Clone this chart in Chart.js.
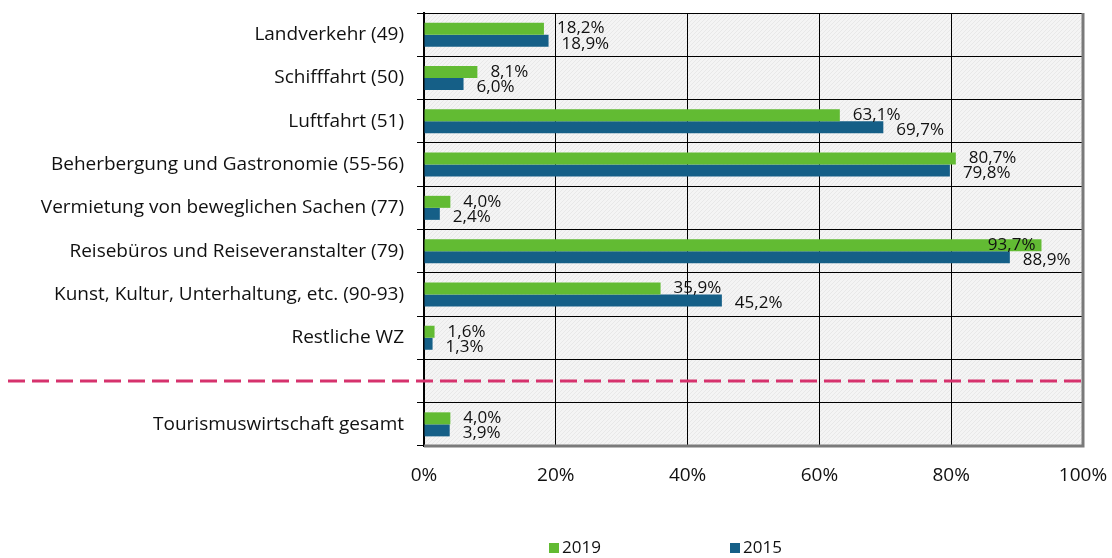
<!DOCTYPE html>
<html>
<head>
<meta charset="utf-8">
<script src="https://cdn.jsdelivr.net/npm/chart.js@4"></script>
<style>
  html, body { margin: 0; padding: 0; background: #fff; }
  #wrap { width: 1112px; height: 558px; }
</style>
</head>
<body>
<div id="wrap"><canvas id="chart" width="1112" height="558"></canvas></div>
<script>
const categories = [
    "Landverkehr (49)",
    "Schifffahrt (50)",
    "Luftfahrt (51)",
    "Beherbergung und Gastronomie (55-56)",
    "Vermietung von beweglichen Sachen (77)",
    "Reisebüros und Reiseveranstalter (79)",
    "Kunst, Kultur, Unterhaltung, etc. (90-93)",
    "Restliche WZ",
    "",
    "Tourismuswirtschaft gesamt"
];
const values2019 = [18.2, 8.1, 63.1, 80.7, 4.0, 93.7, 35.9, 1.6, null, 4.0];
const values2015 = [18.9, 6.0, 69.7, 79.8, 2.4, 88.9, 45.2, 1.3, null, 3.9];
const xTicks = [0, 20, 40, 60, 80, 100];
const separatorIndex = 8;  // empty row that holds the dashed line

const FONT = "'Open Sans', 'Noto Sans', sans-serif";
const TEXT = "#111";

// light hatched background of the plot area
function makePattern(ctx) {
    const c = document.createElement("canvas");
    c.width = 4; c.height = 4;
    const p = c.getContext("2d");
    p.fillStyle = "#f4f4f4";
    p.fillRect(0, 0, 4, 4);
    p.strokeStyle = "#e8e8e8";
    p.lineWidth = 1;
    p.beginPath();
    p.moveTo(0, 4); p.lineTo(4, 0);
    p.stroke();
    return ctx.createPattern(c, "repeat");
}

const backgroundPlugin = {
    id: "plotBackground",
    beforeDraw(chart) {
        const { ctx, chartArea: a } = chart;
        ctx.save();
        ctx.fillStyle = makePattern(ctx);
        ctx.fillRect(a.left, a.top, a.right - a.left, a.bottom - a.top);
        ctx.restore();
    }
};

const labelPlugin = {
    id: "valueLabels",
    afterDatasetsDraw(chart) {
        const { ctx, chartArea: a } = chart;
        ctx.save();
        ctx.font = "17px " + FONT;
        ctx.fillStyle = TEXT;
        ctx.textBaseline = "middle";
        chart.data.datasets.forEach((ds, di) => {
            chart.getDatasetMeta(di).data.forEach((bar, i) => {
                const v = ds.data[i];
                if (v === null) return;
                const text = v.toFixed(1).replace(".", ",") + "%";
                const w = ctx.measureText(text).width;
                const y = bar.y + (di === 0 ? 0 : 3);
                if (bar.x + 13 + w > a.right) {
                    ctx.textAlign = "right";
                    ctx.fillText(text, bar.x - 6, y);
                } else {
                    ctx.textAlign = "left";
                    ctx.fillText(text, bar.x + 13, y);
                }
            });
        });
        ctx.restore();
    }
};

const overlayPlugin = {
    id: "overlay",
    afterDraw(chart) {
        const { ctx, chartArea: a } = chart;
        const yScale = chart.scales.y;
        ctx.save();

        // grey frame on right and bottom
        ctx.strokeStyle = "#7a7a7a";
        ctx.lineWidth = 3;
        ctx.beginPath();
        ctx.moveTo(a.right, a.top);
        ctx.lineTo(a.right, a.bottom);
        ctx.lineTo(a.left, a.bottom);
        ctx.stroke();

        // dashed separator
        const ySep = yScale.getPixelForValue(separatorIndex);
        ctx.strokeStyle = "#d6326d";
        ctx.lineWidth = 3;
        ctx.setLineDash([17, 7]);
        ctx.beginPath();
        ctx.moveTo(8, ySep);
        ctx.lineTo(a.right, ySep);
        ctx.stroke();
        ctx.setLineDash([]);

        // legend
        ctx.font = "17px " + FONT;
        ctx.textBaseline = "middle";
        ctx.textAlign = "left";
        chart.data.datasets.forEach((ds, i) => {
            const x = 549 + i * 181;
            const y = 548;
            ctx.fillStyle = ds.backgroundColor;
            ctx.fillRect(x, y - 5, 10, 10);
            ctx.fillStyle = TEXT;
            ctx.fillText(ds.label, x + 13, y);
        });
        ctx.restore();
    }
};

new Chart(document.getElementById("chart"), {
    type: "bar",
    data: {
        labels: categories,
        datasets: [
            { label: "2019", data: values2019, backgroundColor: "#62bb33" },
            { label: "2015", data: values2015, backgroundColor: "#155f87" }
        ]
    },
    options: {
        indexAxis: "y",
        responsive: false,
        animation: false,
        devicePixelRatio: 1,
        categoryPercentage: 0.555,
        barPercentage: 1,
        layout: { padding: { top: 13, right: 29, left: 8, bottom: 0 } },
        plugins: {
            legend: { display: false },
            tooltip: { enabled: false }
        },
        scales: {
            x: {
                min: 0,
                max: 100,
                afterFit(scale) {
                    scale.height = 112;
                    scale.paddingLeft = 0;
                    scale.paddingRight = 0;
                },
                afterBuildTicks(scale) { scale.ticks = xTicks.map(v => ({ value: v })); },
                grid: { color: "#000", lineWidth: 1, drawTicks: false },
                border: { display: false },
                ticks: {
                    padding: 18,
                    color: TEXT,
                    font: { family: FONT, size: 19 },
                    callback: v => v + "%"
                }
            },
            y: {
                afterFit(scale) {
                    scale.width = 416;
                    scale.paddingTop = 0;
                    scale.paddingBottom = 0;
                },
                grid: { color: "#000", lineWidth: 1, tickLength: 7, offset: true },
                border: { color: "#000", width: 2 },
                ticks: {
                    padding: 13,
                    color: TEXT,
                    font: { family: FONT, size: 19 }
                }
            }
        }
    },
    plugins: [backgroundPlugin, labelPlugin, overlayPlugin]
});
</script>
</body>
</html>
